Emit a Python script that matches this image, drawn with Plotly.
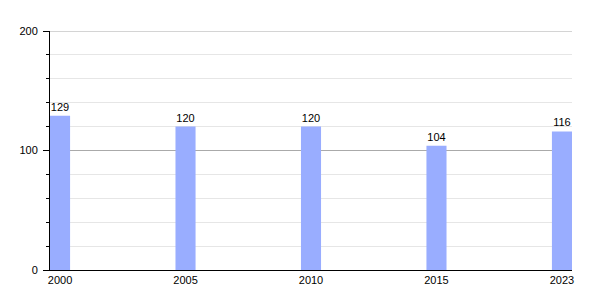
import plotly.graph_objects as go

years = ["2000", "2005", "2010", "2015", "2023"]
values = [129, 120, 120, 104, 116]

fig = go.Figure()
fig.add_trace(go.Bar(
    x=years, y=values,
    width=0.16,
    marker=dict(color="#99adff", line=dict(width=0)),
    text=[str(v) for v in values],
    textposition="outside",
    textfont=dict(family="Liberation Sans, Arial, sans-serif", size=11, color="#000000"),
    cliponaxis=False,
))

fig.update_layout(
    width=600, height=300,
    margin=dict(l=50, r=28, t=31, b=30),
    plot_bgcolor="white", paper_bgcolor="white",
    showlegend=False,
    font=dict(family="Liberation Sans, Arial, sans-serif", size=11, color="#000000"),
    xaxis=dict(
        type="category",
        range=[-0.08, 4.08],
        showline=True, linecolor="#000000", linewidth=1,
        ticks="", showgrid=False,
        tickfont=dict(size=11),
    ),
    yaxis=dict(
        range=[0, 200],
        tickvals=[0, 100, 200],
        showline=True, linecolor="#000000", linewidth=1,
        ticks="outside", ticklen=6, tickcolor="#000000",
        ticklabelstandoff=3,
        showgrid=True, gridcolor="#aaaaaa", gridwidth=1,
        zeroline=False,
        minor=dict(dtick=20, ticks="outside", ticklen=3, tickcolor="#000000",
                   showgrid=True, gridcolor="#e6e6e6", gridwidth=1),
        tickfont=dict(size=11),
    ),
    shapes=[dict(type="line", xref="paper", yref="y", x0=0, x1=1, y0=200, y1=200,
                 line=dict(color="#aaaaaa", width=1), layer="below")],
)

fig.write_html("out.html")
